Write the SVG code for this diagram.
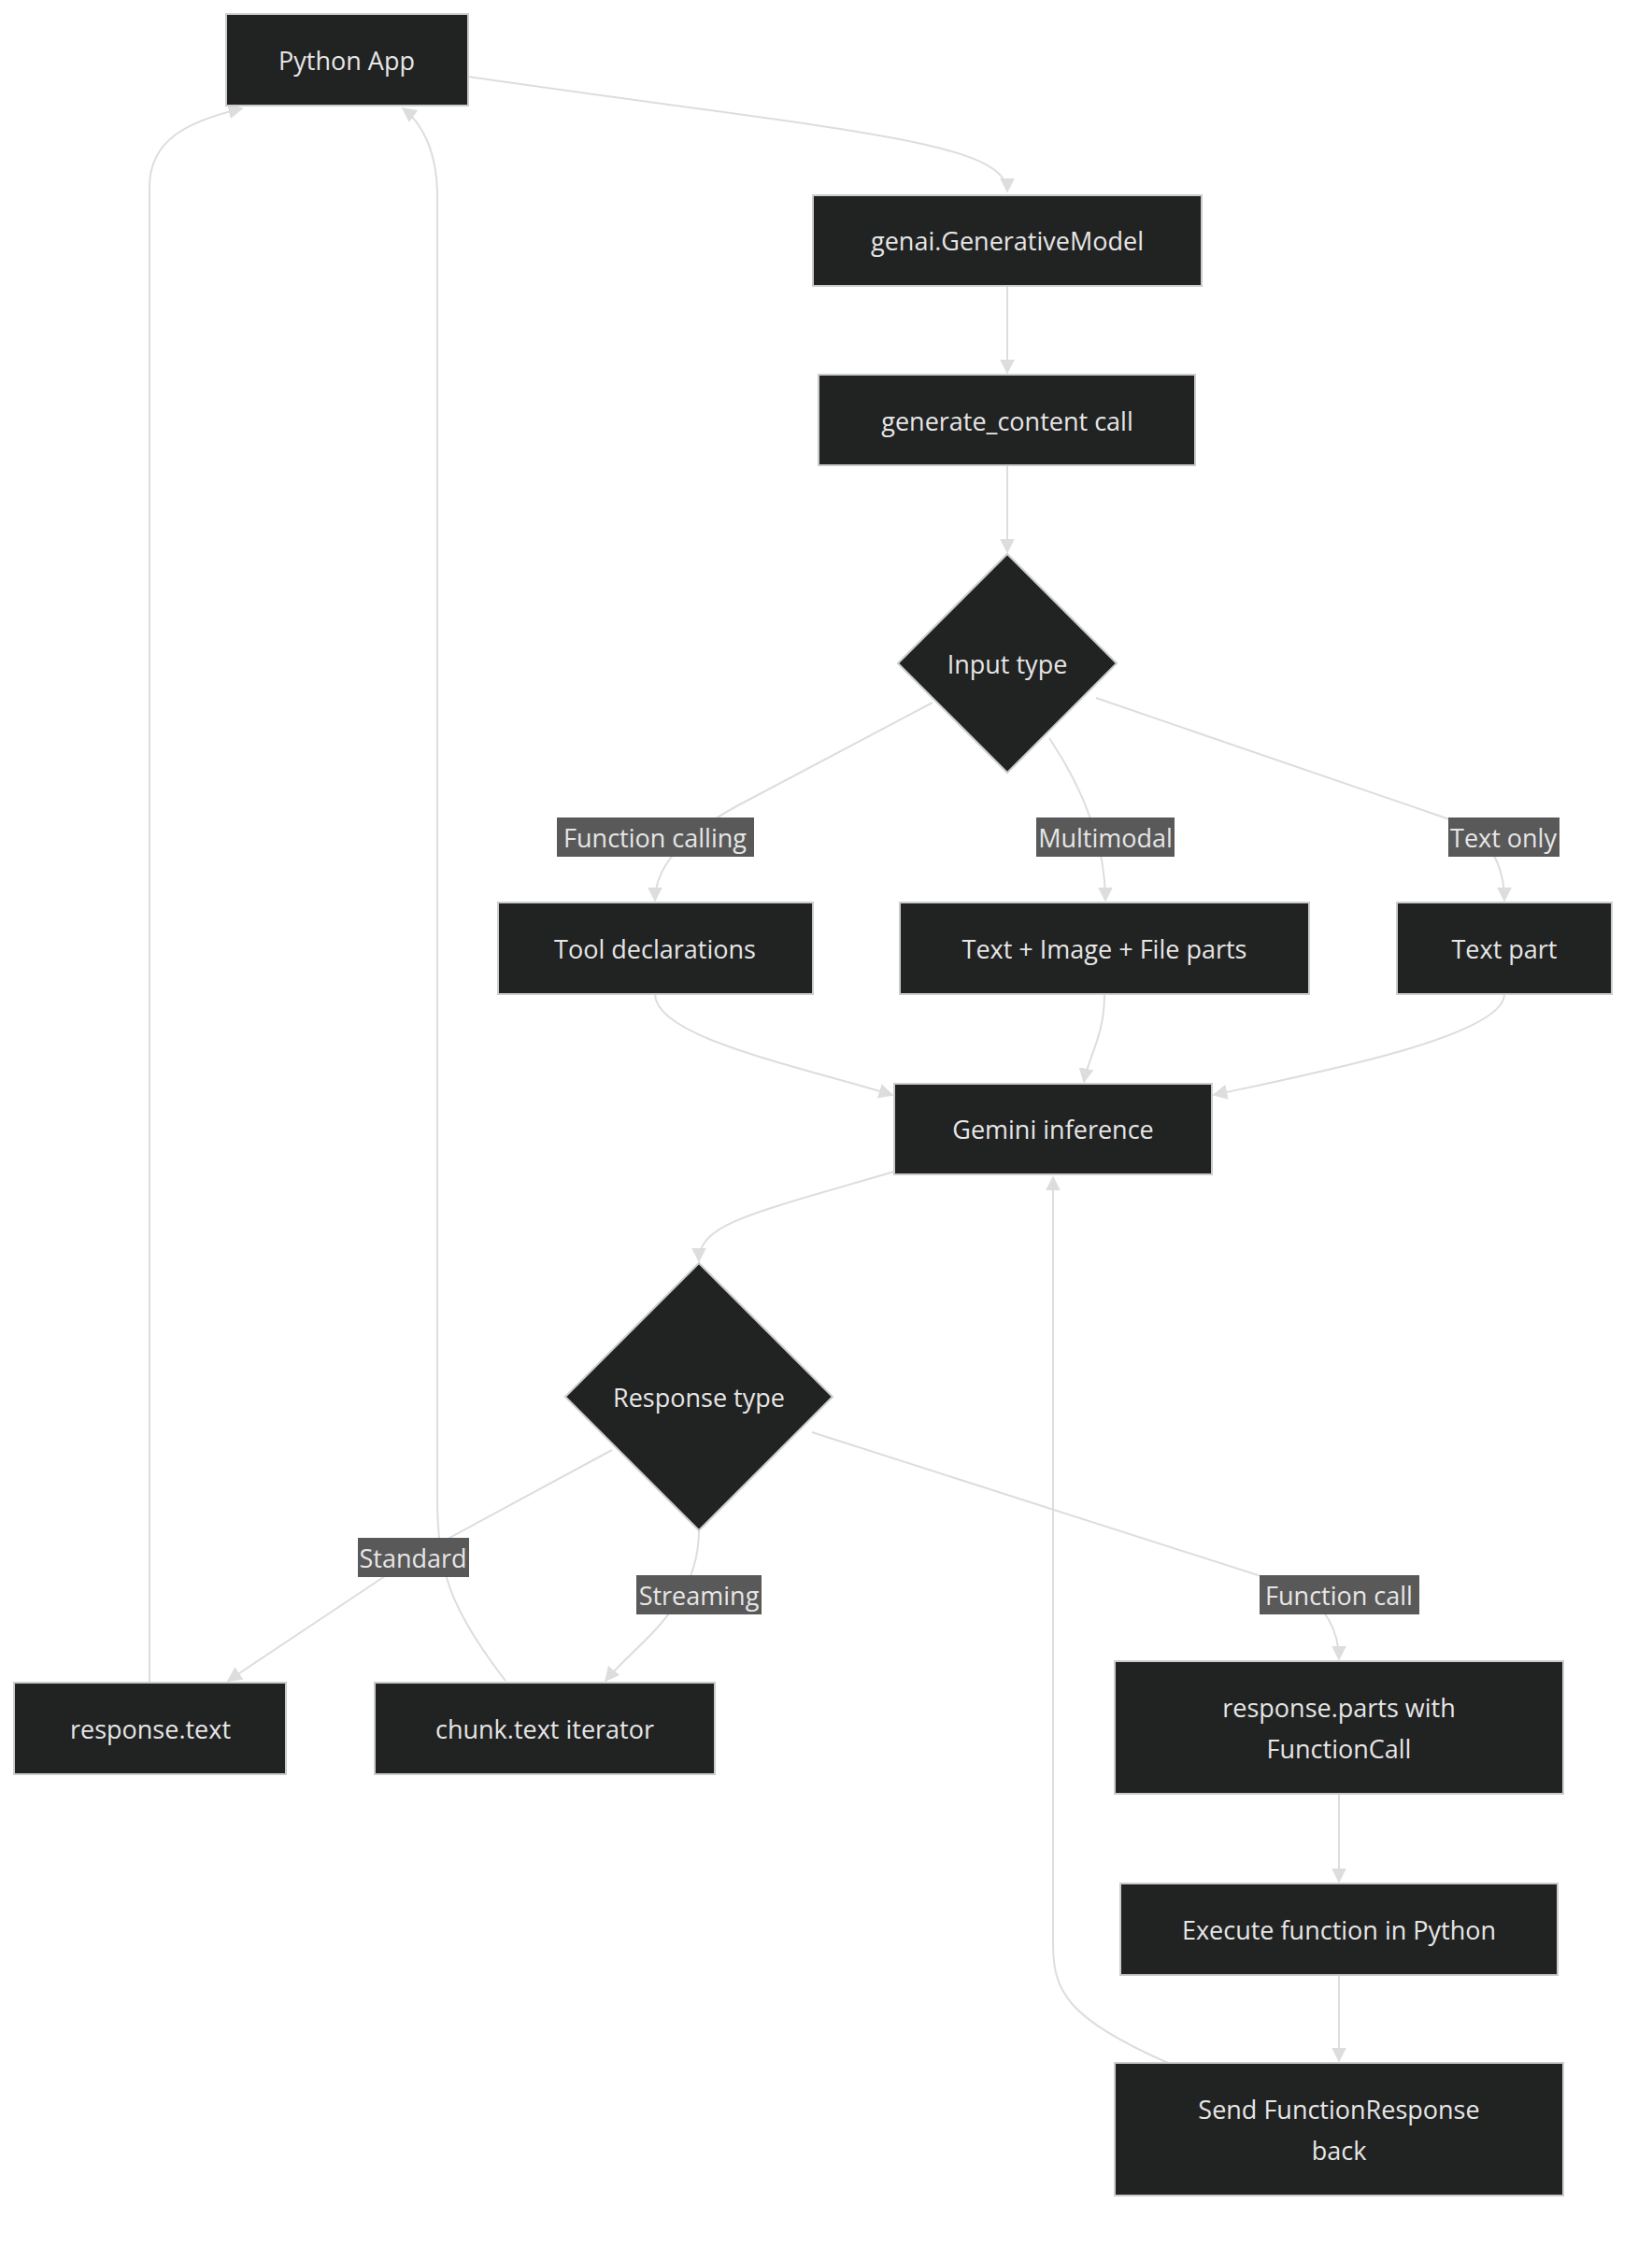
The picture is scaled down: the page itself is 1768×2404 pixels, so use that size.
<svg xmlns="http://www.w3.org/2000/svg" width="1768" height="2404" viewBox="0 0 1768 2404">
<style>
.n{fill:#212222;stroke:#cccccc;stroke-width:2}
.t{font-family:"Open Sans","DejaVu Sans",sans-serif;font-size:27px;fill:#e6e6e6;text-anchor:middle;dominant-baseline:central}
.e{fill:none;stroke:#dddddd;stroke-width:2;marker-end:url(#a)}
.lb{fill:#595959}
.lt{font-family:"Open Sans","DejaVu Sans",sans-serif;font-size:27px;fill:#e6e6e6;text-anchor:middle;dominant-baseline:central}
</style>
<defs><marker id="a" viewBox="0 0 10 10" refX="9" refY="5" markerWidth="8" markerHeight="8" orient="auto-start-reverse"><path d="M0,0L10,5L0,10z" fill="#dddddd"/></marker></defs>
<rect width="1768" height="2404" fill="#ffffff"/>
<g id="edges">
<path class="e" d="M501,82 C900,140 1078,150 1078,205"/>
<path class="e" d="M1078,306 L1078,399"/>
<path class="e" d="M1078,498 L1078,591"/>
<path class="e" d="M998,752 L790,862 Q701,910 701,964"/>
<path class="e" d="M1123,790 Q1183,880 1183,964"/>
<path class="e" d="M1173,747 L1560,880 Q1610,905 1610,964"/>
<path class="e" d="M701,1064 C701,1110 850,1140 955,1172"/>
<path class="e" d="M1182,1064 C1182,1110 1165,1130 1160,1158"/>
<path class="e" d="M1610,1064 C1610,1110 1400,1150 1299,1172"/>
<path class="e" d="M957,1254 C800,1300 748,1310 748,1350"/>
<path class="e" d="M655,1552 L442,1667 L244,1799"/>
<path class="e" d="M748,1638 C748,1720 680,1760 648,1799"/>
<path class="e" d="M869,1533 L1390,1700 Q1433,1730 1433,1776"/>
<path class="e" d="M1433,1920 L1433,2014"/>
<path class="e" d="M1433,2114 L1433,2206"/>
<path class="e" d="M1250,2208 C1140,2160 1127,2130 1127,2080 L1127,1260"/>
<path class="e" d="M160,1801 L160,200 C160,150 200,130 259,116"/>
<path class="e" d="M541,1799 C480,1720 468,1680 468,1600 L468,210 C468,160 450,130 431,116"/>
<rect class="lb" x="596" y="875" width="211" height="42"/><text class="lt" x="701" y="896">Function calling</text>
<rect class="lb" x="1109" y="875" width="148" height="42"/><text class="lt" x="1183" y="896">Multimodal</text>
<rect class="lb" x="1550" y="875" width="119" height="42"/><text class="lt" x="1609" y="896">Text only</text>
<rect class="lb" x="383" y="1646" width="119" height="42"/><text class="lt" x="442" y="1667">Standard</text>
<rect class="lb" x="681" y="1686" width="134" height="42"/><text class="lt" x="748" y="1707">Streaming</text>
<rect class="lb" x="1348" y="1686" width="171" height="42"/><text class="lt" x="1433" y="1707">Function call</text>
</g>
<g id="python_app"><rect class="n" x="242" y="15" width="259" height="98"/><text class="t" x="371" y="64">Python App</text></g>
<g id="genai"><rect class="n" x="870" y="209" width="416" height="97"/><text class="t" x="1078" y="257">genai.GenerativeModel</text></g>
<g id="gen_call"><rect class="n" x="876" y="401" width="403" height="97"/><text class="t" x="1078" y="450">generate_content call</text></g>
<g id="input_type"><polygon class="n" points="1078,593 1195,710 1078,827 961,710"/><text class="t" x="1078" y="710">Input type</text></g>
<g id="tool_decl"><rect class="n" x="533" y="966" width="337" height="98"/><text class="t" x="701" y="1015">Tool declarations</text></g>
<g id="multimodal"><rect class="n" x="963" y="966" width="438" height="98"/><text class="t" x="1182" y="1015">Text + Image + File parts</text></g>
<g id="text_part"><rect class="n" x="1495" y="966" width="230" height="98"/><text class="t" x="1610" y="1015">Text part</text></g>
<g id="gemini"><rect class="n" x="957" y="1160" width="340" height="97"/><text class="t" x="1127" y="1208">Gemini inference</text></g>
<g id="response_type"><polygon class="n" points="748,1352 891,1495 748,1638 605,1495"/><text class="t" x="748" y="1495">Response type</text></g>
<g id="response_text"><rect class="n" x="15" y="1801" width="291" height="98"/><text class="t" x="161" y="1850">response.text</text></g>
<g id="chunk_text"><rect class="n" x="401" y="1801" width="364" height="98"/><text class="t" x="583" y="1850">chunk.text iterator</text></g>
<g id="parts"><rect class="n" x="1193" y="1778" width="480" height="142"/><text class="t" x="1433" y="1827">response.parts with</text><text class="t" x="1433" y="1871">FunctionCall</text></g>
<g id="execute"><rect class="n" x="1199" y="2016" width="468" height="98"/><text class="t" x="1433" y="2065">Execute function in Python</text></g>
<g id="send"><rect class="n" x="1193" y="2208" width="480" height="142"/><text class="t" x="1433" y="2257">Send FunctionResponse</text><text class="t" x="1433" y="2301">back</text></g>
</svg>
